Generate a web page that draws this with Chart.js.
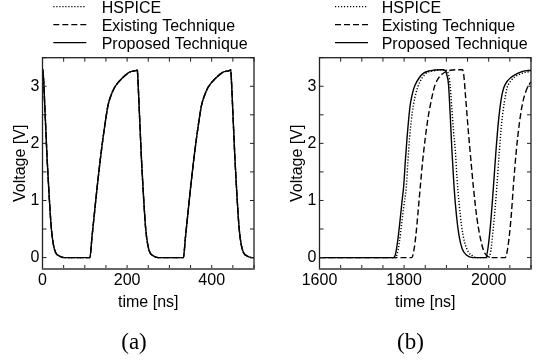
<!DOCTYPE html>
<html>
<head>
<meta charset="utf-8">
<script src="https://cdn.jsdelivr.net/npm/chart.js@4.4.0/dist/chart.umd.min.js"></script>
<style>
  html, body { margin: 0; padding: 0; background: #fff; }
  body { width: 543px; height: 363px; position: relative; overflow: hidden; }
  canvas { position: absolute; top: 0; }
</style>
</head>
<body>
<canvas id="chartA" width="266" height="363" style="left:0"></canvas>
<canvas id="chartB" width="266" height="363" style="left:277px"></canvas>
<script>
// series names
const seriesNames = ['HSPICE', 'Existing Technique', 'Proposed Technique'];

// (a) 0-500 ns, all three curves coincide
const timeA = [0, 1, 3, 6, 11, 16, 21, 26, 31, 39, 51,
  112, 117, 122, 129, 136, 143, 149, 155, 162, 169, 178, 187, 197, 207, 222,
  224, 226, 229, 234, 239, 244, 249, 254, 262, 274,
  333, 338, 343, 350, 357, 364, 370, 376, 383, 390, 399, 408, 418, 428, 443,
  445, 447, 450, 455, 460, 465, 470, 475, 483, 495, 500];
const voltA = [3.29, 3.29, 3.05, 2.55, 1.72, 1.05, 0.5, 0.22, 0.09, 0.03, 0.0,
  0.0, 0.36, 0.72, 1.22, 1.68, 2.09, 2.40, 2.67, 2.84, 2.96, 3.06, 3.13, 3.20, 3.25, 3.28,
  3.29, 3.05, 2.55, 1.72, 1.05, 0.5, 0.22, 0.09, 0.03, 0.0,
  0.0, 0.36, 0.72, 1.22, 1.68, 2.09, 2.40, 2.67, 2.84, 2.96, 3.06, 3.13, 3.20, 3.25, 3.28,
  3.29, 3.05, 2.55, 1.72, 1.05, 0.5, 0.22, 0.09, 0.03, 0.0, 0.0];

// (b) 1600-2100 ns
const hspiceT = [1600, 1779, 1784, 1789, 1794, 1799, 1805, 1809, 1813, 1817, 1822, 1828, 1834, 1843, 1855, 1870, 1889,
  1900, 1905, 1909, 1913, 1917, 1921, 1925, 1930, 1936, 1943, 1952, 1962, 1972,
  2000, 2005, 2010, 2015, 2019, 2025, 2031, 2037, 2043, 2053, 2070, 2085, 2100];
const hspiceV = [0, 0, 0.07, 0.28, 0.58, 0.88, 1.22, 1.68, 2.1, 2.4, 2.67, 2.88, 3.02, 3.15, 3.24, 3.27, 3.29,
  3.28, 3.2, 3.0, 2.6, 2.2, 1.88, 1.4, 0.95, 0.55, 0.27, 0.1, 0.03, 0.0,
  0.0, 0.12, 0.45, 0.85, 1.22, 1.85, 2.38, 2.72, 2.96, 3.1, 3.2, 3.24, 3.26];

const existT = [1600, 1818, 1823, 1828, 1833, 1838, 1844, 1850, 1856, 1862, 1867, 1873, 1882, 1897, 1910, 1938,
  1941, 1945, 1952, 1958, 1964, 1972, 1980, 1988, 1998, 2008,
  2039, 2044, 2049, 2054, 2058, 2065, 2073, 2080, 2090, 2100];
const existV = [0, 0, 0.12, 0.4, 0.8, 1.22, 1.7, 2.09, 2.42, 2.67, 2.85, 3.02, 3.15, 3.25, 3.28, 3.29,
  3.2, 2.85, 2.2, 1.7, 1.22, 0.7, 0.35, 0.12, 0.02, 0.0,
  0.0, 0.12, 0.4, 0.8, 1.22, 1.85, 2.38, 2.7, 2.95, 3.08];

const propT = [1600, 1775, 1780, 1785, 1790, 1795, 1799, 1803, 1807, 1814, 1820, 1826, 1835, 1846, 1860, 1889,
  1897, 1901, 1905, 1909, 1913, 1918, 1924, 1930, 1937, 1948, 1962,
  1993, 1998, 2004, 2011, 2017, 2023, 2029, 2035, 2045, 2062, 2080, 2100];
const propV = [0, 0, 0.07, 0.3, 0.62, 0.98, 1.25, 1.7, 2.1, 2.65, 2.88, 3.02, 3.14, 3.23, 3.27, 3.29,
  3.28, 3.2, 3.03, 2.5, 1.88, 1.25, 0.72, 0.38, 0.16, 0.04, 0.0,
  0.0, 0.15, 0.55, 1.22, 1.85, 2.38, 2.75, 2.96, 3.1, 3.2, 3.26, 3.28];

const dashStyles = [[1.2, 1.8], [6, 3], []];

Chart.defaults.font.family = "'Liberation Sans', Arial, Helvetica, sans-serif";
Chart.defaults.font.size = 16;
Chart.defaults.color = '#000';

function pts(ts, vs) {
  return ts.map((t, i) => ({ x: t, y: vs[i] }));
}

function makeSet(i, ts, vs) {
  return {
    label: seriesNames[i],
    data: pts(ts, vs),
    borderColor: '#000',
    borderWidth: 1.4,
    borderDash: dashStyles[i],
    pointRadius: 0,
    fill: false,
    cubicInterpolationMode: 'monotone'
  };
}

// inward ticks on all four sides plus the box
const framePlugin = {
  id: 'frame',
  afterDatasetsDraw(chart) {
    const { ctx, chartArea: a, scales } = chart;
    const x = scales.x, y = scales.y;
    ctx.save();
    ctx.strokeStyle = '#222';
    ctx.lineWidth = 1;
    ctx.beginPath();
    x.ticks.forEach(t => {
      const px = x.getPixelForValue(t.value);
      ctx.moveTo(px, a.bottom); ctx.lineTo(px, a.bottom - 4);
      ctx.moveTo(px, a.top); ctx.lineTo(px, a.top + 4);
    });
    y.ticks.forEach(t => {
      const py = y.getPixelForValue(t.value);
      ctx.moveTo(a.left, py); ctx.lineTo(a.left + 4, py);
      ctx.moveTo(a.right, py); ctx.lineTo(a.right - 4, py);
    });
    ctx.stroke();
    ctx.lineWidth = 1.3;
    ctx.strokeRect(a.left, a.top, a.right - a.left, a.bottom - a.top);
    // bottom edge reads a bit heavier in the source
    ctx.strokeStyle = '#666';
    ctx.lineWidth = 2;
    ctx.beginPath();
    ctx.moveTo(a.left, a.bottom); ctx.lineTo(a.right, a.bottom);
    ctx.stroke();
    ctx.restore();
  }
};

// legend rows and panel caption
const notesPlugin = {
  id: 'notes',
  afterDraw(chart, args, opts) {
    const ctx = chart.ctx;
    ctx.save();
    ctx.fillStyle = '#000';
    ctx.strokeStyle = '#000';
    ctx.lineWidth = 1.2;
    ctx.font = "16px 'Liberation Sans', Arial, sans-serif";
    ctx.textBaseline = 'alphabetic';
    chart.data.datasets.forEach((ds, i) => {
      const ly = 6.7 + 18 * i;
      ctx.setLineDash(ds.borderDash);
      ctx.beginPath();
      ctx.moveTo(opts.lineX, ly);
      ctx.lineTo(opts.lineX + 33, ly);
      ctx.stroke();
      ctx.fillText(ds.label, opts.textX, 13.3 + 18 * i);
    });
    ctx.setLineDash([]);
    ctx.font = "23px 'Liberation Serif', 'Times New Roman', serif";
    ctx.textAlign = 'center';
    ctx.textBaseline = 'middle';
    ctx.fillText(opts.caption, opts.captionX, 342.5);
    ctx.restore();
  }
};

function makeChart(id, sets, xMin, xMax, legendPos, caption, captionX) {
  return new Chart(document.getElementById(id), {
    type: 'line',
    data: { datasets: sets },
    options: {
      responsive: false,
      animation: false,
      events: [],
      layout: { padding: { top: 57.7, right: 12, bottom: 0, left: 0 } },
      plugins: {
        legend: { display: false },
        tooltip: { enabled: false },
        notes: { lineX: legendPos[0], textX: legendPos[1], caption: caption, captionX: captionX }
      },
      scales: {
        x: {
          type: 'linear',
          min: xMin, max: xMax,
          grid: { display: false, drawTicks: false },
          border: { display: false },
          ticks: {
            stepSize: 50, autoSkip: false, maxRotation: 0, padding: 2, includeBounds: false,
            callback: v => (v % 200 === 0 ? String(v) : '')
          },
          title: { display: true, text: 'time [ns]', padding: { top: 0, bottom: 50.4 } },
          afterFit: s => { s.height = 94; }
        },
        y: {
          min: -0.2, max: 3.5,
          grid: { display: false, drawTicks: false },
          border: { display: false },
          ticks: {
            stepSize: 0.5, autoSkip: false, padding: 3, includeBounds: false,
            callback: v => (Number.isInteger(v) ? String(v) : '')
          },
          title: { display: true, text: 'Voltage [V]', padding: { top: 11.4, bottom: 0 } },
          afterFit: s => { s.width = 42.5; }
        }
      }
    },
    plugins: [framePlugin, notesPlugin]
  });
}

makeChart('chartA',
  [makeSet(0, timeA, voltA), makeSet(1, timeA, voltA), makeSet(2, timeA, voltA)],
  0, 500, [53.3, 101.7], '(a)', 134);

makeChart('chartB',
  [makeSet(0, hspiceT, hspiceV), makeSet(1, existT, existV), makeSet(2, propT, propV)],
  1600, 2100, [58, 104.7], '(b)', 133.5);
</script>
</body>
</html>
